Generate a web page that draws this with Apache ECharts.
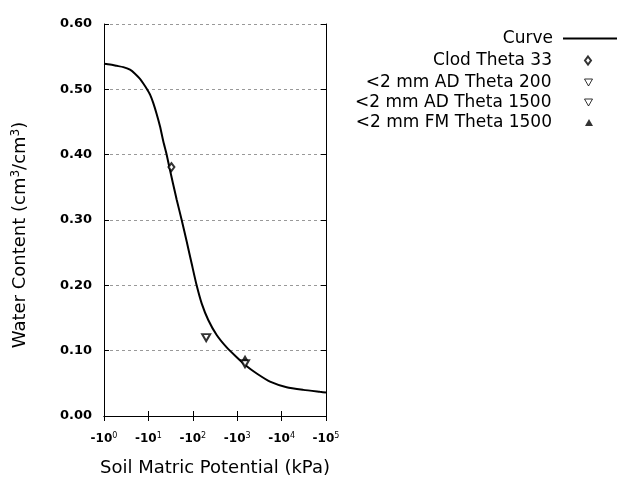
<!DOCTYPE html>
<html>
<head>
<meta charset="utf-8">
<script src="https://cdn.jsdelivr.net/npm/echarts@6/dist/echarts.min.js"></script>
<style>html,body{margin:0;padding:0;background:#fff}#c{width:640px;height:480px}</style>
</head>
<body>
<div id="c"></div>
<script>
// Curve (suction in kPa, water content)
const curveH = [1, 1.37, 1.93, 2.72, 3.85, 4.99, 6.47, 7.68, 9.16, 10.9, 12.9, 15.4, 18.3, 21.7, 25.8, 29.6, 35.8, 43.4, 56.2, 72.9, 94.5, 122, 159, 223, 345, 580, 975, 1640, 2750, 5480, 13000, 30800, 73300, 100000];
const curveTheta = [0.539, 0.538, 0.536, 0.534, 0.530, 0.524, 0.516, 0.509, 0.501, 0.492, 0.479, 0.462, 0.443, 0.420, 0.400, 0.381, 0.356, 0.331, 0.300, 0.267, 0.233, 0.200, 0.172, 0.147, 0.124, 0.105, 0.090, 0.076, 0.065, 0.0525, 0.044, 0.040, 0.037, 0.036];
// Measured points
const clodH = [33], clodTheta = [0.381];
const ad200H = [200], ad200Theta = [0.120];
const ad1500H = [1500], ad1500Theta = [0.080];
const fm1500H = [1500], fm1500Theta = [0.089];
const seriesNames = ['Curve', 'Clod Theta 33', '<2 mm AD Theta 200', '<2 mm AD Theta 1500', '<2 mm FM Theta 1500'];

const zip = (a, b) => a.map((v, i) => [v, b[i]]);
const font = 'DejaVu Sans, Verdana, sans-serif';

const legendRows = [39, 61, 83, 103, 123];
const downTri = 'path://M0,0L8,0L4,7Z';
function mkLegend(i, opts) {
  return Object.assign({
    show: true,
    data: [seriesNames[i]],
    orient: 'vertical',
    align: 'right',
    right: 47,
    top: legendRows[i] - 9,
    padding: 0,
    itemWidth: 8,
    itemHeight: 7,
    selectedMode: false,
    textStyle: { fontFamily: font, fontSize: 17, color: '#000', padding: [0, 28, 0, 0] }
  }, opts);
}

const chart = echarts.init(document.getElementById('c'), null, { renderer: 'canvas' });
chart.setOption({
  animation: false,
  backgroundColor: '#fff',
  grid: { left: 104, right: 314, top: 24, bottom: 64, containLabel: false, outerBoundsMode: 'none' },
  legend: [
    mkLegend(0, { right: 23, itemWidth: 54, itemHeight: 2, icon: 'rect',
      itemStyle: { color: '#000' },
      textStyle: { fontFamily: font, fontSize: 17, color: '#000', padding: [0, 5, 0, 0] } }),
    mkLegend(1, { itemWidth: 6, itemHeight: 8, right: 48 }),
    mkLegend(2, { icon: downTri, itemStyle: { color: '#fff', borderColor: '#000', borderWidth: 1 } }),
    mkLegend(3, { icon: downTri, itemStyle: { color: '#fff', borderColor: '#000', borderWidth: 1 } }),
    mkLegend(4, { itemWidth: 8, itemHeight: 7 })
  ],
  xAxis: [{
    type: 'log', logBase: 10, min: 1, max: 100000,
    name: 'Soil Matric Potential (kPa)', nameLocation: 'middle', nameGap: 43,
    nameTextStyle: { fontFamily: font, fontSize: 18, color: '#000' },
    axisLine: { lineStyle: { color: '#000', width: 1 } },
    axisTick: { inside: true, length: 5, lineStyle: { color: '#000' } },
    axisLabel: {
      margin: 16, color: '#000', fontFamily: font,
      formatter: v => '{b|-10}{s|' + Math.round(Math.log10(v)) + '}',
      rich: {
        b: { fontSize: 12, fontWeight: 'bold', fontFamily: font, color: '#000', verticalAlign: 'bottom' },
        s: { fontSize: 8, fontFamily: font, color: '#000', verticalAlign: 'bottom', padding: [0, 0, 5, 0] }
      }
    },
    splitLine: { show: false }, minorTick: { show: false }
  }, {
    type: 'log', logBase: 10, min: 1, max: 100000, position: 'top',
    axisLine: { lineStyle: { color: '#000', width: 1 } },
    axisTick: { inside: true, length: 5, lineStyle: { color: '#000' } },
    axisLabel: { show: false }, splitLine: { show: false }
  }],
  yAxis: [{
    type: 'value', min: 0, max: 0.6, interval: 0.1,
    name: 'Water Content (cm{s|3}/cm{s|3})', nameLocation: 'middle', nameGap: 74, nameRotate: 90,
    nameTextStyle: {
      fontFamily: font, fontSize: 18, color: '#000', padding: [0, 30, 0, 0],
      rich: { s: { fontSize: 12, fontFamily: font, color: '#000', padding: [0, 0, 8, 0] } }
    },
    axisLine: { show: true, lineStyle: { color: '#000', width: 1 } },
    axisTick: { show: true, inside: true, length: 5, lineStyle: { color: '#000' } },
    axisLabel: { margin: 12, color: '#000', fontFamily: font, fontSize: 13, fontWeight: 'bold',
      formatter: v => v.toFixed(2) },
    splitLine: { show: true, lineStyle: { color: '#999', type: [3, 3], width: 1 } }
  }, {
    type: 'value', min: 0, max: 0.6, interval: 0.1, position: 'right',
    axisLine: { show: true, lineStyle: { color: '#000', width: 1 } },
    axisTick: { show: true, inside: true, length: 5, lineStyle: { color: '#000' } },
    axisLabel: { show: false }, splitLine: { show: false }
  }],
  series: [{
    name: seriesNames[0], type: 'line', data: zip(curveH, curveTheta), smooth: 0.2,
    showSymbol: false, symbol: 'none', lineStyle: { color: '#000', width: 2 }, itemStyle: { color: '#000' }, z: 2
  }, {
    name: seriesNames[1], type: 'scatter', data: zip(clodH, clodTheta), symbol: 'emptyDiamond', symbolSize: [6, 8],
    itemStyle: { color: '#000', borderColor: '#000', borderWidth: 1 }, z: 3
  }, {
    name: seriesNames[2], type: 'scatter', data: zip(ad200H, ad200Theta), symbol: 'emptyTriangle', symbolRotate: 180, symbolSize: [8, 7],
    itemStyle: { color: '#000', borderColor: '#000', borderWidth: 1 }, z: 3
  }, {
    name: seriesNames[3], type: 'scatter', data: zip(ad1500H, ad1500Theta), symbol: 'emptyTriangle', symbolRotate: 180, symbolSize: [8, 7],
    itemStyle: { color: '#000', borderColor: '#000', borderWidth: 1 }, z: 3
  }, {
    name: seriesNames[4], type: 'scatter', data: zip(fm1500H, fm1500Theta), symbol: 'triangle', symbolSize: [7, 6],
    itemStyle: { color: '#000' }, z: 4
  }]
});
</script>
</body>
</html>
